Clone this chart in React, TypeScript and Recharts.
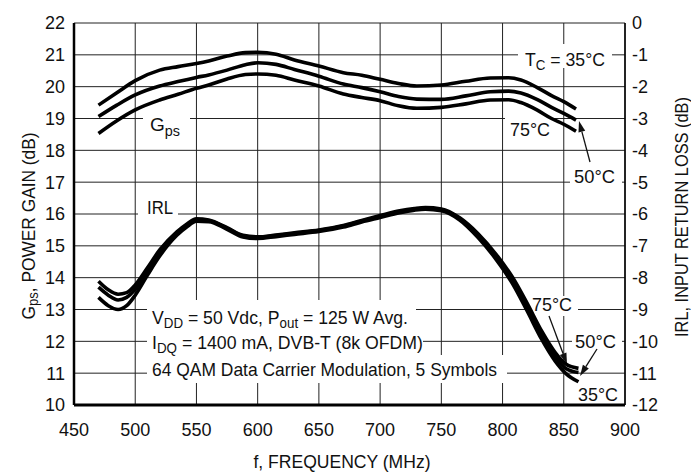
import React from "react";
import {
  LineChart,
  Line,
  XAxis,
  YAxis,
  CartesianGrid,
} from "recharts";

const FONT = "'Liberation Sans', Arial, sans-serif";

// frequency (MHz) sample points
const gainFreq = [
  470, 485, 500, 520, 535, 550, 560, 575, 590, 600, 615, 630, 650, 670, 685,
  700, 715, 730, 750, 770, 790, 805, 815, 828, 840, 850, 860,
];
const gain35 = [
  19.42, 19.81, 20.19, 20.52, 20.63, 20.73, 20.81, 20.96, 21.07, 21.08, 21.02,
  20.84, 20.65, 20.44, 20.36, 20.23, 20.1, 20.02, 20.05, 20.17, 20.27, 20.28,
  20.21, 19.98, 19.72, 19.53, 19.3,
];
const gain50 = [
  19.06, 19.42, 19.74, 20.02, 20.16, 20.29, 20.37, 20.52, 20.69, 20.75, 20.7,
  20.54, 20.33, 20.08, 19.97, 19.84, 19.69, 19.61, 19.6, 19.71, 19.84, 19.86,
  19.8, 19.6, 19.35, 19.16, 18.95,
];
const gain75 = [
  18.53, 18.93, 19.27, 19.58, 19.76, 19.95, 20.05, 20.24, 20.38, 20.4, 20.36,
  20.21, 20.02, 19.77, 19.66, 19.56, 19.4, 19.32, 19.35, 19.46, 19.58, 19.59,
  19.5, 19.27, 19.0, 18.82, 18.6,
];

const irlFreq = [
  470, 478, 486, 493, 500, 510, 520, 534, 542, 550, 560, 575, 588, 600, 615,
  630, 650, 670, 685, 700, 716, 728, 737, 750, 765, 780, 795, 808, 820, 832,
  843, 852, 862,
];
const irl75 = [
  -8.11, -8.38, -8.52, -8.47, -8.23, -7.69, -7.13, -6.56, -6.32, -6.15, -6.19,
  -6.43, -6.67, -6.72, -6.66, -6.59, -6.5, -6.36, -6.2, -6.05, -5.9, -5.83,
  -5.8, -5.84, -6.12, -6.62, -7.28, -7.98, -8.8, -9.68, -10.35, -10.72, -10.85,
];
const irl50 = [
  -8.3, -8.55, -8.7, -8.62, -8.37, -7.79, -7.22, -6.61, -6.36, -6.19, -6.21,
  -6.45, -6.69, -6.74, -6.68, -6.61, -6.52, -6.38, -6.22, -6.08, -5.93, -5.85,
  -5.82, -5.87, -6.15, -6.68, -7.36, -8.08, -8.92, -9.8, -10.47, -10.86, -10.98,
];
const irl35 = [
  -8.62, -8.88, -9.0, -8.88, -8.55, -7.92, -7.32, -6.67, -6.41, -6.23, -6.24,
  -6.48, -6.72, -6.77, -6.71, -6.64, -6.55, -6.41, -6.25, -6.11, -5.96, -5.88,
  -5.85, -5.9, -6.19, -6.74, -7.44, -8.18, -9.04, -9.94, -10.62, -11.02, -11.27,
];

const xTicks = [450, 500, 550, 600, 650, 700, 750, 800, 850, 900];
const leftTicks = [10, 11, 12, 13, 14, 15, 16, 17, 18, 19, 20, 21, 22];
const rightTicks = [-12, -11, -10, -9, -8, -7, -6, -5, -4, -3, -2, -1, 0];

const toPts = (fs: number[], vs: number[]) =>
  fs.map((f, i) => ({ f, v: vs[i] }));

const tickStyle = { fontFamily: FONT, fontSize: 18, fill: "#111" };

function Arrow({ x1, y1, x2, y2 }: { x1: number; y1: number; x2: number; y2: number }) {
  const a = Math.atan2(y2 - y1, x2 - x1);
  const len = 11;
  const w = 3.5;
  const bx = x2 - len * Math.cos(a);
  const by = y2 - len * Math.sin(a);
  const p1 = `${bx + w * Math.sin(a)},${by - w * Math.cos(a)}`;
  const p2 = `${bx - w * Math.sin(a)},${by + w * Math.cos(a)}`;
  return (
    <g>
      <line x1={x1} y1={y1} x2={bx} y2={by} stroke="#111" strokeWidth={1.3} />
      <polygon points={`${x2},${y2} ${p1} ${p2}`} fill="#111" />
    </g>
  );
}

function Annotations() {
  const t = {
    fontFamily: FONT,
    fontSize: 18.5,
    fill: "#111",
    lengthAdjust: "spacingAndGlyphs" as const,
  };
  return (
    <g>
      {/* white backings that interrupt grid lines */}
      <rect x={518} y={44} width={94} height={24} fill="#fff" />
      <rect x={505} y={110} width={48} height={20} fill="#fff" />
      <rect x={570} y={166} width={52} height={22} fill="#fff" />
      <rect x={143} y={108} width={47} height={22} fill="#fff" />
      <rect x={138} y={198} width={40} height={22} fill="#fff" />
      <rect x={147} y={300} width={269} height={30} fill="#fff" />
      <rect x={147} y={330} width={276} height={25} fill="#fff" />
      <rect x={147} y={355} width={360} height={28} fill="#fff" />
      <rect x={527} y={296} width={51} height={20} fill="#fff" />
      <rect x={572} y={332} width={50} height={18} fill="#fff" />

      <text {...t} x={525} y={66} textLength={80}>
        T<tspan fontSize={14} dy={4}>C</tspan>
        <tspan dy={-4}> = 35°C</tspan>
      </text>
      <text {...t} x={510} y={136} textLength={40}>75°C</text>
      <text {...t} x={574} y={183} textLength={41}>50°C</text>
      <Arrow x1={590} y1={162} x2={579} y2={121} />

      <text {...t} x={150} y={131} textLength={30}>
        G<tspan fontSize={14} dy={5}>ps</tspan>
      </text>
      <text {...t} x={147} y={214} textLength={26}>IRL</text>

      <text {...t} x={152} y={324} textLength={256}>
        V<tspan fontSize={14} dy={4}>DD</tspan>
        <tspan dy={-4}> = 50 Vdc, P</tspan>
        <tspan fontSize={14} dy={4}>out</tspan>
        <tspan dy={-4}> = 125 W Avg.</tspan>
      </text>
      <text {...t} x={152} y={349} textLength={271}>
        I<tspan fontSize={14} dy={4}>DQ</tspan>
        <tspan dy={-4}> = 1400 mA, DVB-T (8k OFDM)</tspan>
      </text>
      <text {...t} x={152} y={376} textLength={345}>
        64 QAM Data Carrier Modulation, 5 Symbols
      </text>

      <text {...t} x={532} y={311} textLength={40}>75°C</text>
      <Arrow x1={549} y1={316} x2={567} y2={364} />
      <text {...t} x={575} y={348} textLength={41}>50°C</text>
      <Arrow x1={597} y1={349} x2={580} y2={376} />
      <text {...t} x={578} y={401} textLength={40}>35°C</text>

      {/* axis titles */}
      <text
        {...t}
        x={28}
        y={226}
        textAnchor="middle"
        dominantBaseline="central"
        textLength={187}
        transform="rotate(-90, 28, 226)"
      >
        G<tspan fontSize={14} dy={5}>ps</tspan>
        <tspan dy={-5}>, POWER GAIN (dB)</tspan>
      </text>
      <text
        {...t}
        fontSize={18}
        x={682}
        y={217}
        textAnchor="middle"
        dominantBaseline="central"
        textLength={240}
        transform="rotate(-90, 682, 217)"
      >
        IRL, INPUT RETURN LOSS (dB)
      </text>
      <text {...t} x={342} y={468} textAnchor="middle" textLength={177}>
        f, FREQUENCY (MHz)
      </text>
    </g>
  );
}

export default function App() {
  const lineProps = {
    type: "monotone" as const,
    dataKey: "v",
    stroke: "#000",
    strokeWidth: 3.6,
    dot: false,
    isAnimationActive: false,
  };
  return (
    <div style={{ position: "absolute", left: 0, top: 0, background: "#fff" }}>
      <LineChart
        width={691}
        height={474}
        margin={{ top: 23, right: 0, bottom: 0, left: 0 }}
      >
        <CartesianGrid
          yAxisId="left"
          stroke="#222"
          strokeWidth={1}
          horizontalValues={leftTicks}
          verticalValues={xTicks}
        />
        <XAxis
          type="number"
          dataKey="f"
          domain={[450, 900]}
          ticks={xTicks}
          allowDataOverflow
          height={69}
          tickLine={false}
          tickSize={6}
          tickMargin={12}
          axisLine={{ stroke: "#000", strokeWidth: 3 }}
          tick={tickStyle}
          interval={0}
        />
        <YAxis
          yAxisId="left"
          orientation="left"
          type="number"
          domain={[10, 22]}
          ticks={leftTicks}
          allowDataOverflow
          width={74}
          tickLine={false}
          tickSize={6}
          tickMargin={3}
          axisLine={{ stroke: "#000", strokeWidth: 2.5 }}
          tick={tickStyle}
          interval={0}
        />
        <YAxis
          yAxisId="right"
          orientation="right"
          type="number"
          domain={[-12, 0]}
          ticks={rightTicks}
          allowDataOverflow
          width={66}
          tickLine={false}
          tickSize={6}
          tickMargin={1}
          axisLine={{ stroke: "#000", strokeWidth: 1.5 }}
          tick={{ ...tickStyle, textAnchor: "start" }}
          interval={0}
        />
        <Annotations />
        <Line {...lineProps} yAxisId="left" data={toPts(gainFreq, gain35)} />
        <Line {...lineProps} yAxisId="left" data={toPts(gainFreq, gain50)} />
        <Line {...lineProps} yAxisId="left" data={toPts(gainFreq, gain75)} />
        <Line {...lineProps} yAxisId="right" data={toPts(irlFreq, irl75)} />
        <Line {...lineProps} yAxisId="right" data={toPts(irlFreq, irl50)} />
        <Line {...lineProps} yAxisId="right" data={toPts(irlFreq, irl35)} />
      </LineChart>
    </div>
  );
}
